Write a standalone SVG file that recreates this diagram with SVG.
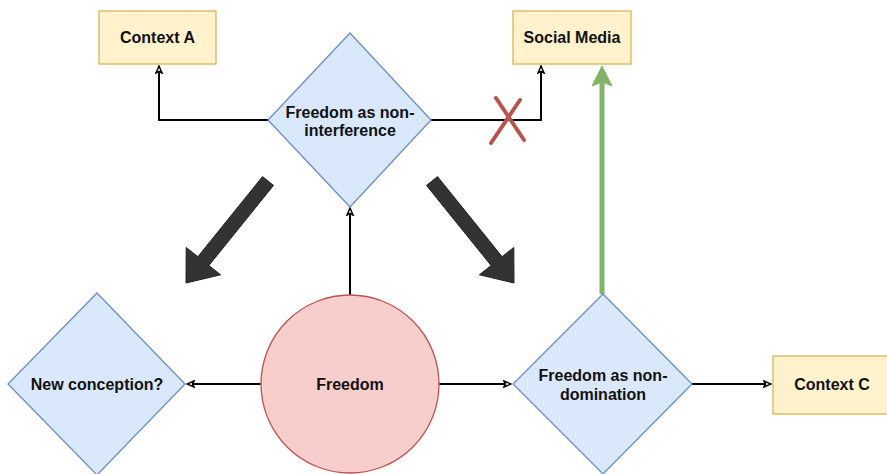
<svg xmlns="http://www.w3.org/2000/svg" width="887" height="474" viewBox="0 0 887 474">
<style>
.dia{fill:#dae8fc;stroke:#6c8ebf;stroke-width:1.3}
.box{fill:#fff2cc;stroke:#d6b656;stroke-width:1.3}
.circ{fill:#f8cecc;stroke:#b85450;stroke-width:1.3}
text{font-family:"Liberation Sans",Arial,sans-serif;font-weight:bold;font-size:16px;fill:#111;text-anchor:middle}
.con{fill:none;stroke:#000;stroke-width:2}
.big{fill:#333;stroke:#222;stroke-width:1}
</style>
<defs>
<marker id="open" viewBox="0 0 10 10" refX="9" refY="5" markerWidth="9" markerHeight="9" markerUnits="userSpaceOnUse" orient="auto">
<path d="M1,1.5 L9,5 L1,8.5 L3,5 Z" fill="#fff" stroke="#000" stroke-width="1.6"/>
</marker>
</defs>
<rect width="887" height="474" fill="#fff"/>
<g id="connectors">
<path class="con" d="M268,120 H159 V66" marker-end="url(#open)"/>
<path class="con" d="M431,120 H541 V66" marker-end="url(#open)"/>
<path class="con" d="M350,295 V208" marker-end="url(#open)"/>
<path class="con" d="M261,384 H187" marker-end="url(#open)"/>
<path class="con" d="M439,384 H511" marker-end="url(#open)"/>
<path class="con" d="M692,384 H771" marker-end="url(#open)"/>
<line x1="602" y1="294" x2="602" y2="82" stroke="#82b366" stroke-width="5"/>
<polygon points="602,66 612,86 602,82 592,86" fill="#82b366" stroke="#82b366" stroke-width="1"/>
<g stroke="#b85450" stroke-width="4" stroke-linecap="round">
<line x1="496" y1="98" x2="524" y2="140"/>
<line x1="520" y1="100" x2="491" y2="143"/>
</g>
<polygon class="big" points="262.5,176.6 273.5,185.4 208.9,265.5 220.6,274.8 186,283 186.2,247.4 197.9,256.7"/>
<polygon class="big" points="437.5,176.6 426.5,185.4 491.1,265.5 479.4,274.8 514,283 513.8,247.4 502.1,256.7"/>
</g>
<g id="contextA">
<rect class="box" x="99" y="11" width="117" height="53"/>
<text x="157.5" y="43">Context A</text>
</g>
<g id="socialMedia">
<rect class="box" x="513" y="11" width="118" height="53"/>
<text x="572" y="43">Social Media</text>
</g>
<g id="nonInterference">
<polygon class="dia" points="350,33 431,120 350,207 268,120"/>
<text x="350" y="118">Freedom as non-</text>
<text x="350" y="136">interference</text>
</g>
<g id="newConception">
<polygon class="dia" points="97,293 185,384 97,475 8,384"/>
<text x="97" y="390">New conception?</text>
</g>
<g id="freedom">
<circle class="circ" cx="350" cy="384" r="89"/>
<text x="350" y="390">Freedom</text>
</g>
<g id="nonDomination">
<polygon class="dia" points="603,294 692,384 603,474 513,384"/>
<text x="603" y="381">Freedom as non-</text>
<text x="603" y="400">domination</text>
</g>
<g id="contextC">
<rect class="box" x="773" y="356" width="118" height="58"/>
<text x="832" y="390">Context C</text>
</g>
</svg>
